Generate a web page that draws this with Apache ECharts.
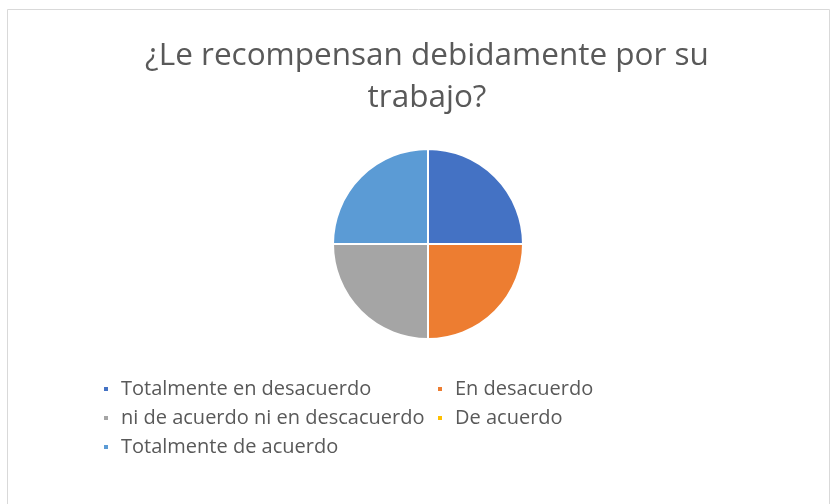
<!DOCTYPE html>
<html>
<head>
<meta charset="utf-8">
<script src="https://cdn.jsdelivr.net/npm/echarts@6/dist/echarts.min.js"></script>
<style>
  html, body { margin: 0; padding: 0; background: #ffffff; }
  #chart { width: 832px; height: 504px; }
</style>
</head>
<body>
<div id="chart"></div>
<script>
// Survey answers for the question in the title
const titleText = '¿Le recompensan debidamente por su\ntrabajo?';
const categories = [
  'Totalmente en desacuerdo',
  'En desacuerdo',
  'ni de acuerdo ni en descacuerdo',
  'De acuerdo',
  'Totalmente de acuerdo'
];
const values = [1, 1, 1, 0, 1];
const colors = ['#4472C4', '#ED7D31', '#A5A5A5', '#FFC000', '#5B9BD5'];

// Legend laid out as two columns, as in the office-style chart
const leftColumn = [categories[0], categories[2], categories[4]];
const rightColumn = [categories[1], categories[3]];

const fontFamily = '"Open Sans", "Noto Sans", sans-serif';

const legendCommon = {
  orient: 'vertical',
  top: 379,
  padding: 0,
  itemWidth: 6,
  itemHeight: 6,
  itemGap: 9,
  icon: 'rect',
  textStyle: {
    color: '#595959',
    fontSize: 20,
    lineHeight: 20,
    fontFamily: fontFamily,
    padding: [0, 0, 0, 7]
  }
};

const chart = echarts.init(document.getElementById('chart'), null, { renderer: 'canvas' });
chart.setOption({
  backgroundColor: '#ffffff',
  color: colors,
  animation: false,
  title: {
    text: titleText,
    left: 427,
    textAlign: 'center',
    top: 35,
    padding: 0,
    textStyle: {
      color: '#595959',
      fontSize: 31.5,
      fontWeight: 'normal',
      fontFamily: fontFamily,
      lineHeight: 42
    }
  },
  legend: [
    Object.assign({}, legendCommon, { left: 102, data: leftColumn }),
    Object.assign({}, legendCommon, { left: 436, data: rightColumn })
  ],
  graphic: [{
    type: 'rect',
    shape: { x: 7.5, y: 9.5, width: 822, height: 520 },
    style: { fill: 'none', stroke: '#D9D9D9', lineWidth: 1 },
    silent: true
  }],
  series: [{
    type: 'pie',
    center: [428, 244],
    radius: [0, 95],
    startAngle: 90,
    clockwise: true,
    label: { show: false },
    labelLine: { show: false },
    itemStyle: { borderColor: '#ffffff', borderWidth: 2 },
    emphasis: { disabled: true },
    data: categories.map((name, i) => ({ name: name, value: values[i] }))
  }]
});
</script>
</body>
</html>
